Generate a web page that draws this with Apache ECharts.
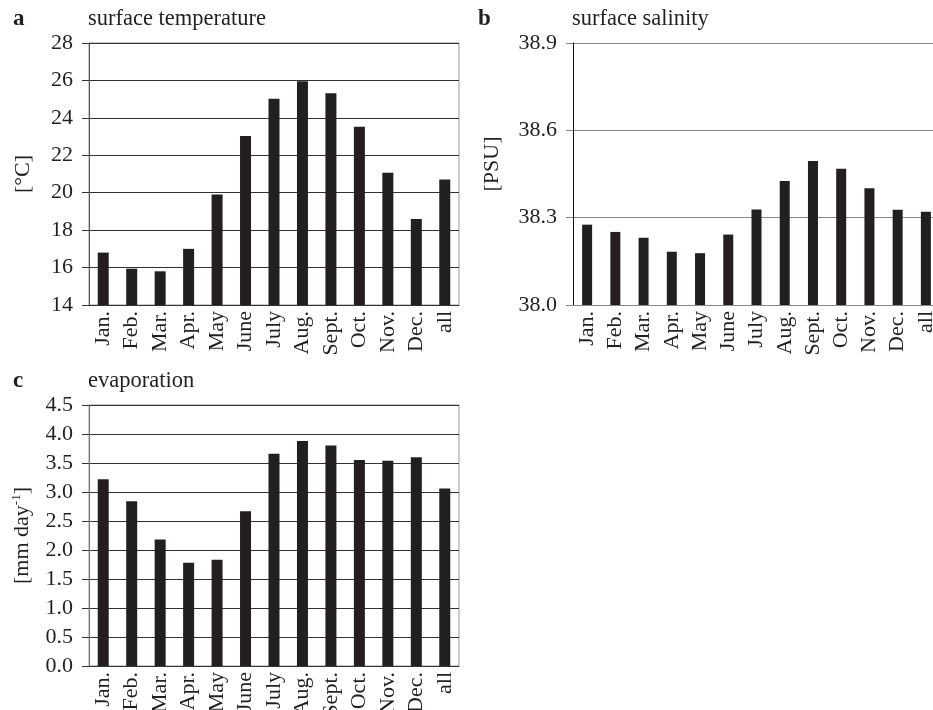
<!DOCTYPE html>
<html><head><meta charset="utf-8">
<script src="https://cdn.jsdelivr.net/npm/echarts@6/dist/echarts.min.js"></script>
<style>html,body{margin:0;padding:0;background:#fff}#c{width:933px;height:710px}</style>
</head><body><div id="c"></div>
<script>
const categories = ['Jan.','Feb.','Mar.','Apr.','May','June','July','Aug.','Sept.','Oct.','Nov.','Dec.','all'];
const temperature = [16.8, 15.94, 15.8, 17.0, 19.9, 23.03, 25.02, 25.96, 25.32, 23.52, 21.07, 18.6, 20.7];
const salinity = [38.276, 38.251, 38.231, 38.183, 38.178, 38.242, 38.328, 38.426, 38.495, 38.468, 38.401, 38.327, 38.320];
const evaporation = [3.22, 2.84, 2.18, 1.78, 1.83, 2.67, 3.66, 3.88, 3.80, 3.55, 3.54, 3.60, 3.06];
const salinityBase = 38.0;

const FONT = '"Liberation Serif", "DejaVu Serif", serif';
const TXT = '#231f20';
const BAR = '#231f20';
const FS = 22;

function xAxisFor(i, lineColor){
  return {type:'category', gridIndex:i, data:categories, boundaryGap:true,
    axisLine:{show:true, lineStyle:{color:lineColor, width:1}},
    axisTick:{show:false},
    axisLabel:{rotate:90, margin:6, fontFamily:FONT, fontSize:FS, color:TXT, interval:0}};
}
function titleAt(text, left, top, bold){
  return {text:text, left:left, top:top, padding:0,
    textStyle:{fontFamily:FONT, fontSize:bold ? 23 : 22.5, fontWeight:bold ? 'bold' : 'normal', color:TXT}};
}
const chart = echarts.init(document.getElementById('c'), null, {renderer:'canvas'});
const option = {
  animation:false,
  backgroundColor:'#fff',
  title:[
    titleAt('a', 13, 8, true),
    titleAt('surface temperature', 88, 8, false),
    titleAt('b', 478, 8, true),
    titleAt('surface salinity', 572, 8, false),
    titleAt('c', 13, 370, true),
    titleAt('evaporation', 88, 370, false)
  ],
  grid:[
    {left:89, top:43, width:370, height:262, show:true, borderColor:'#999', borderWidth:1, outerBoundsMode:'none', containLabel:false},
    {left:573, top:43, width:367, height:262, show:false, outerBoundsMode:'none', containLabel:false},
    {left:89, top:405, width:370, height:261, show:true, borderColor:'#999', borderWidth:1, outerBoundsMode:'none', containLabel:false}
  ],
  xAxis:[xAxisFor(0,'#333'), xAxisFor(1,'#888'), xAxisFor(2,'#333')],
  yAxis:[
    {type:'value', gridIndex:0, min:14, max:28, interval:2,
      name:'[°C]', nameLocation:'middle', nameGap:55, nameRotate:90,
      nameTextStyle:{fontFamily:FONT, fontSize:FS, color:TXT},
      axisLine:{show:true, lineStyle:{color:'#555'}},
      axisTick:{show:true, length:7, lineStyle:{color:'#333'}},
      splitLine:{show:true, lineStyle:{color:'#333', width:1}},
      axisLabel:{margin:16, fontFamily:FONT, fontSize:FS, color:TXT}},
    {type:'value', gridIndex:1, min:0, max:0.9, interval:0.3,
      name:'[PSU]', nameLocation:'middle', nameGap:70, nameRotate:90,
      nameTextStyle:{fontFamily:FONT, fontSize:FS, color:TXT, padding:[0,0,0,20]},
      axisLine:{show:true, lineStyle:{color:'#111'}},
      axisTick:{show:true, length:7, lineStyle:{color:'#888'}},
      splitLine:{show:true, lineStyle:{color:'#888', width:1}},
      axisLabel:{margin:16, fontFamily:FONT, fontSize:FS, color:TXT,
        formatter:v => (salinityBase + v).toFixed(1)}},
    {type:'value', gridIndex:2, min:0, max:4.5, interval:0.5,
      name:'{a|[mm day}{s|-1}{a|]}', nameLocation:'middle', nameGap:55, nameRotate:90,
      nameTextStyle:{fontFamily:FONT, fontSize:FS, color:TXT,
        rich:{a:{fontFamily:FONT, fontSize:FS, color:TXT, lineHeight:24},
              s:{fontFamily:FONT, fontSize:13, color:TXT, verticalAlign:'top', lineHeight:24, padding:[0,0,10,0]}}},
      axisLine:{show:true, lineStyle:{color:'#777'}},
      axisTick:{show:true, length:7, lineStyle:{color:'#333'}},
      splitLine:{show:true, lineStyle:{color:'#333', width:1}},
      axisLabel:{margin:16, fontFamily:FONT, fontSize:FS, color:TXT,
        formatter:v => v.toFixed(1)}}
  ],
  series:[
    {type:'bar', xAxisIndex:0, yAxisIndex:0, data:temperature, barWidth:11,
      itemStyle:{color:BAR}},
    {type:'bar', xAxisIndex:1, yAxisIndex:1, data:salinity.map(v => +(v - salinityBase).toFixed(4)), barWidth:10,
      itemStyle:{color:BAR}},
    {type:'bar', xAxisIndex:2, yAxisIndex:2, data:evaporation, barWidth:11,
      itemStyle:{color:BAR}}
  ]
};
chart.setOption(option);
</script>
</body></html>
